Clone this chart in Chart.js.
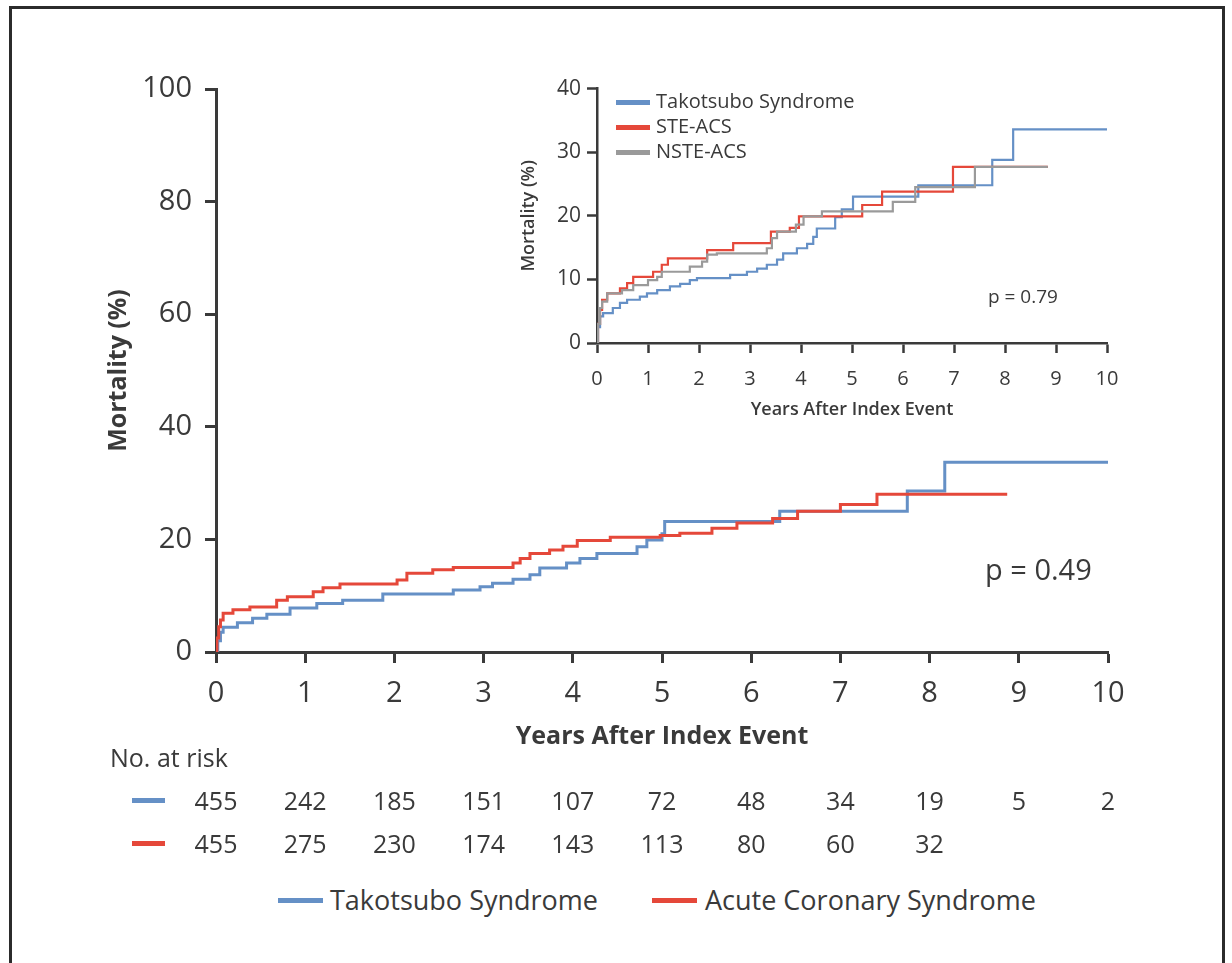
<!DOCTYPE html>
<html>
<head>
<meta charset="utf-8">
<script src="https://cdn.jsdelivr.net/npm/chart.js@4.4.1/dist/chart.umd.min.js"></script>
<style>
  html, body { margin: 0; padding: 0; background: #fff; }
  body { width: 1232px; height: 963px; position: relative; overflow: hidden; font-family: 'Open Sans', sans-serif; color: #3a3a3a; }
  .frame { position: absolute; left: 9px; top: 6px; width: 1210px; height: 1000px; border: 3px solid #2b2b2b; }
  canvas { position: absolute; }
  .txt { position: absolute; white-space: nowrap; line-height: 1; }
  .swatch { position: absolute; height: 5px; }
</style>
</head>
<body>
<div class="frame"></div>
<canvas id="mainChart" width="1232" height="780" style="left:0;top:0;width:1232px;height:780px"></canvas>
<canvas id="insetChart" width="640" height="360" style="left:500px;top:70px;width:640px;height:360px"></canvas>
<div id="overlay"></div>
<script>
// --- Data ---
// Main panel: Takotsubo vs ACS (years, cumulative mortality %)
const tsTime = [0, 0.02, 0.05, 0.08, 0.24, 0.41, 0.57, 0.83, 1.13, 1.42, 1.87, 2.66, 2.96, 3.1, 3.33, 3.52, 3.63, 3.93, 4.08, 4.27, 4.72, 4.83, 5.0, 5.03, 6.32, 7.75, 8.17, 10];
const tsMort = [0, 2.0, 3.5, 4.4, 5.2, 6.0, 6.7, 7.8, 8.6, 9.2, 10.3, 11.0, 11.6, 12.2, 12.9, 13.7, 14.9, 15.8, 16.6, 17.5, 18.7, 19.9, 21.0, 23.2, 25.0, 28.6, 33.7, 33.7];
const acsTime = [0, 0.01, 0.03, 0.05, 0.08, 0.19, 0.38, 0.68, 0.8, 1.09, 1.2, 1.39, 2.03, 2.14, 2.43, 2.66, 3.33, 3.41, 3.52, 3.74, 3.89, 4.05, 4.42, 4.98, 5.2, 5.56, 5.84, 6.24, 6.52, 7.0, 7.41, 8.87];
const acsMort = [0, 2.5, 4.5, 5.7, 6.9, 7.5, 8.0, 9.2, 9.8, 10.7, 11.4, 12.1, 12.8, 14.0, 14.6, 15.0, 15.8, 16.6, 17.5, 18.1, 18.8, 19.8, 20.4, 20.7, 21.1, 22.0, 22.9, 23.7, 25.0, 26.2, 28.0, 28.0];

// Inset: Takotsubo vs STE-ACS vs NSTE-ACS
const inTsTime = [0, 0.02, 0.06, 0.12, 0.31, 0.45, 0.59, 0.84, 0.98, 1.18, 1.43, 1.63, 1.82, 1.96, 2.61, 2.94, 3.14, 3.33, 3.53, 3.65, 3.92, 4.12, 4.24, 4.31, 4.67, 4.8, 5.02, 6.3, 7.75, 8.16, 10];
const inTsMort = [0, 2.5, 4.2, 4.7, 5.5, 6.3, 6.8, 7.3, 7.8, 8.3, 8.9, 9.3, 9.9, 10.2, 10.7, 11.2, 11.7, 12.3, 13.1, 14.1, 14.9, 15.6, 16.7, 18.0, 19.8, 21.0, 23.0, 24.8, 28.8, 33.6, 33.6];
const steTime = [0, 0.02, 0.06, 0.1, 0.2, 0.45, 0.59, 0.71, 1.1, 1.27, 1.39, 2.16, 2.67, 3.41, 3.78, 3.96, 5.2, 5.59, 6.98, 8.84];
const steMort = [0, 3.0, 5.2, 6.8, 7.8, 8.6, 9.4, 10.4, 11.2, 12.3, 13.3, 14.6, 15.7, 17.5, 18.1, 19.9, 21.7, 23.8, 27.7, 27.7];
const nsteTime = [0, 0.02, 0.06, 0.1, 0.2, 0.49, 0.71, 1.0, 1.18, 1.27, 1.82, 2.06, 2.16, 2.35, 3.33, 3.43, 3.53, 3.9, 4.05, 4.41, 5.8, 6.24, 7.41, 8.84];
const nsteMort = [0, 3.0, 5.5, 6.5, 7.8, 8.3, 9.1, 9.9, 10.4, 11.2, 12.0, 12.8, 13.9, 14.1, 14.9, 16.5, 17.5, 18.6, 19.9, 20.7, 22.2, 24.5, 27.7, 27.7];

// Numbers at risk
const riskYears = [0, 1, 2, 3, 4, 5, 6, 7, 8, 9, 10];
const riskTs = [455, 242, 185, 151, 107, 72, 48, 34, 19, 5, 2];
const riskAcs = [455, 275, 230, 174, 143, 113, 80, 60, 32];

const BLUE = '#6590c6';
const RED = '#e5483a';
const GRAY = '#9a9a9a';
const INK = '#3a3a3a';
const FONT = "'Open Sans', sans-serif";

function toPoints(t, y) { return t.map((v, i) => ({ x: v, y: y[i] })); }

function kmSet(label, t, y, color, w) {
  return { label, data: toPoints(t, y), borderColor: color, borderWidth: w, stepped: true, pointRadius: 0, fill: false };
}

function axis(min, max, step, fontSize, tickLen, tickPad, lineW, title, fit) {
  return {
    type: 'linear', min, max,
    ticks: { stepSize: step, color: INK, padding: tickPad, font: { family: FONT, size: fontSize } },
    grid: { drawOnChartArea: false, drawTicks: true, tickLength: tickLen, tickWidth: lineW, tickColor: INK },
    border: { display: true, color: INK, width: lineW },
    title,
    afterFit: fit
  };
}

// --- Main chart ---
const mainChart = new Chart(document.getElementById('mainChart'), {
  type: 'line',
  data: {
    datasets: [
      kmSet('Acute Coronary Syndrome', acsTime, acsMort, RED, 3),
      kmSet('Takotsubo Syndrome', tsTime, tsMort, BLUE, 3)
    ]
  },
  options: {
    responsive: false, animation: false, devicePixelRatio: 1,
    layout: { padding: { left: 90, top: 89, right: 124, bottom: 18 }, autoPadding: false },
    plugins: { legend: { display: false }, tooltip: { enabled: false } },
    scales: {
      x: axis(0, 10, 1, 29, 11, 13, 3,
        { display: true, text: 'Years After Index Event', color: INK, font: { family: FONT, size: 25, weight: 'bold' }, padding: { top: 0, bottom: 10 } },
        s => { s.height = 110; }),
      y: axis(0, 100, 20, 29, 11, 13, 3,
        { display: true, text: 'Mortality (%)', color: INK, font: { family: FONT, size: 25, weight: 'bold' }, padding: { top: 14, bottom: 0 } },
        s => { s.width = 126; })
    }
  }
});

// --- Inset chart ---
new Chart(document.getElementById('insetChart'), {
  type: 'line',
  data: {
    datasets: [
      kmSet('NSTE-ACS', nsteTime, nsteMort, GRAY, 2.2),
      kmSet('STE-ACS', steTime, steMort, RED, 2.2),
      kmSet('Takotsubo Syndrome', inTsTime, inTsMort, BLUE, 2.2)
    ]
  },
  options: {
    responsive: false, animation: false, devicePixelRatio: 1,
    layout: { padding: { left: 18, top: 18, right: 33, bottom: 7 }, autoPadding: false },
    plugins: { legend: { display: false }, tooltip: { enabled: false } },
    scales: {
      x: axis(0, 10, 1, 20, 10, 14, 2.5,
        { display: true, text: 'Years After Index Event', color: INK, font: { family: FONT, size: 18, weight: '600' }, padding: { top: 0, bottom: 2 } },
        s => { s.height = 80; }),
      y: axis(0, 40, 10, 21, 10, 6, 2.5,
        { display: true, text: 'Mortality (%)', color: INK, font: { family: FONT, size: 18, weight: '600' }, padding: { top: 0, bottom: 0 } },
        s => { s.width = 79; })
    }
  }
});

// --- Text overlay: p values, legends, numbers at risk ---
const overlay = document.getElementById('overlay');
function addText(text, x, y, size, align, extra) {
  const d = document.createElement('div');
  d.className = 'txt';
  d.textContent = text;
  d.style.fontSize = size + 'px';
  d.style.top = (y - size / 2) + 'px';
  if (align === 'center') { d.style.left = x + 'px'; d.style.transform = 'translateX(-50%)'; }
  else d.style.left = x + 'px';
  if (extra) Object.assign(d.style, extra);
  overlay.appendChild(d);
}
function addSwatch(x, y, w, color) {
  const d = document.createElement('div');
  d.className = 'swatch';
  d.style.left = x + 'px'; d.style.top = (y - 2.5) + 'px';
  d.style.width = w + 'px'; d.style.background = color;
  overlay.appendChild(d);
}

addText('p = 0.49', 985, 568, 29);
addText('p = 0.79', 988, 296, 19);

// inset legend
addSwatch(616, 102, 34, BLUE); addText('Takotsubo Syndrome', 656, 101, 20);
addSwatch(616, 127, 34, RED); addText('STE-ACS', 656, 126, 20);
addSwatch(616, 152, 34, GRAY); addText('NSTE-ACS', 656, 151, 20);

// numbers at risk, aligned to the main x scale
const xs = mainChart.scales.x;
addText('No. at risk', 110, 757, 25);
addSwatch(132, 800, 33, BLUE);
addSwatch(132, 843, 33, RED);
riskTs.forEach((n, i) => addText(String(n), xs.getPixelForValue(riskYears[i]), 800, 25, 'center'));
riskAcs.forEach((n, i) => addText(String(n), xs.getPixelForValue(riskYears[i]), 843, 25, 'center'));

// bottom legend
addSwatch(278, 900, 45, BLUE); addText('Takotsubo Syndrome', 330, 899, 27);
addSwatch(652, 900, 45, RED); addText('Acute Coronary Syndrome', 705, 899, 27);
</script>
</body>
</html>
